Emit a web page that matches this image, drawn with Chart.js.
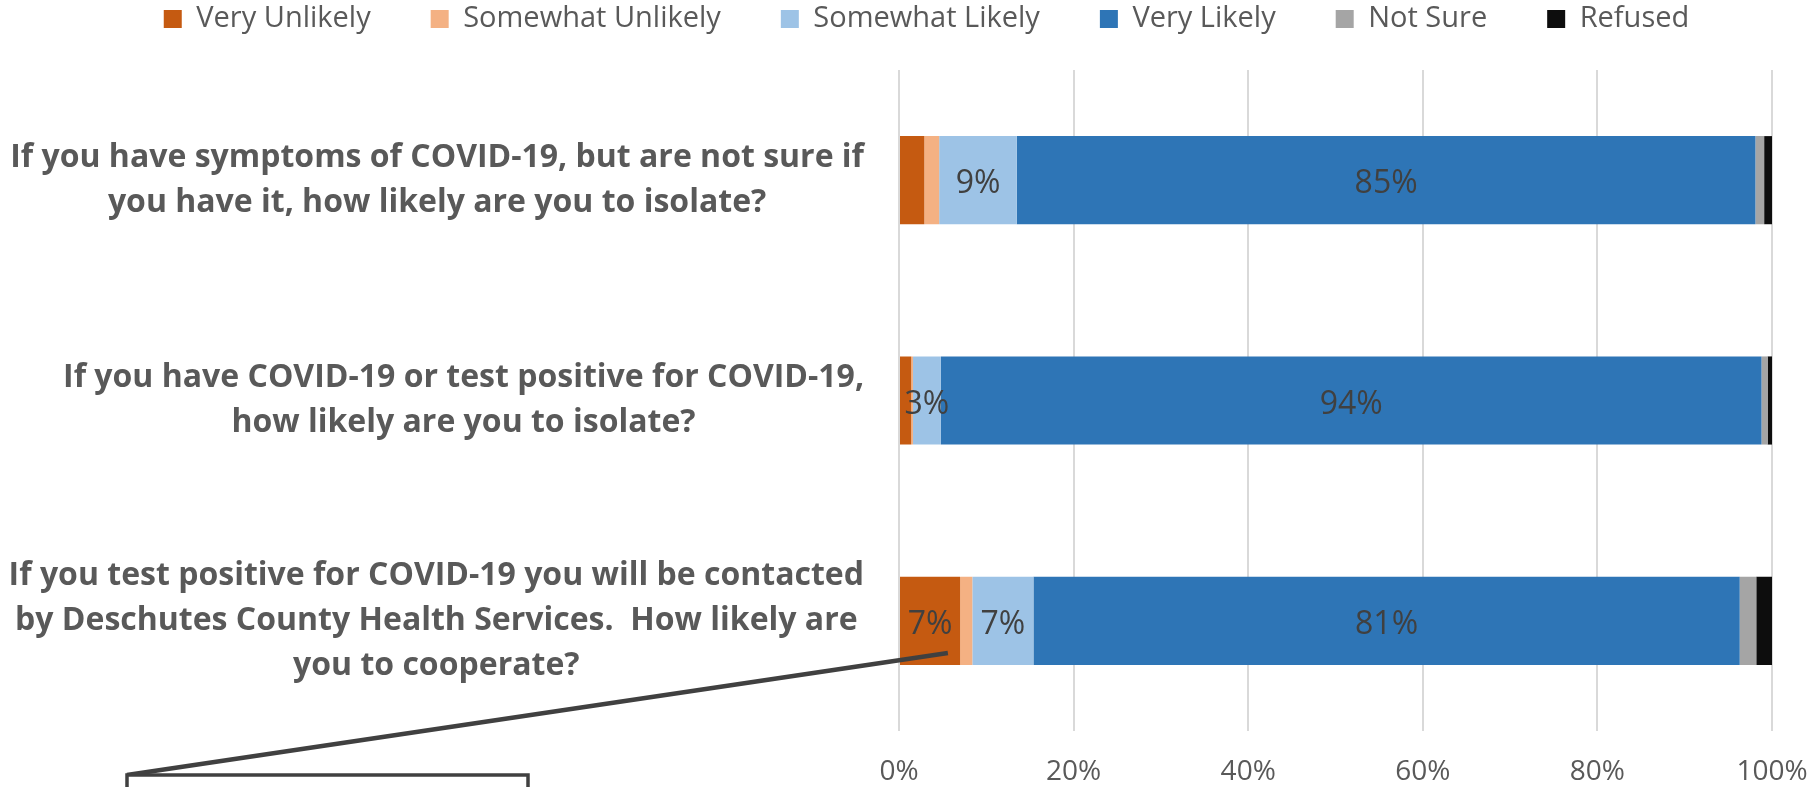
<!DOCTYPE html>
<html>
<head>
<meta charset="utf-8">
<script src="https://cdn.jsdelivr.net/npm/chart.js@4.4.1/dist/chart.umd.min.js"></script>
<style>
  html, body { margin: 0; padding: 0; background: #fff; }
  canvas { display: block; }
</style>
</head>
<body>
<canvas id="likelyChart" width="1811" height="787"></canvas>
<script>
// survey questions, one array of lines each
const questions = [
  ['If you have symptoms of COVID-19, but are not sure if', 'you have it, how likely are you to isolate?'],
  ['If you have COVID-19 or test positive for COVID-19,', 'how likely are you to isolate?'],
  ['If you test positive for COVID-19 you will be contacted', 'by Deschutes County Health Services.  How likely are', 'you to cooperate?']
];
const responses = ['Very Unlikely', 'Somewhat Unlikely', 'Somewhat Likely', 'Very Likely', 'Not Sure', 'Refused'];

// percent of respondents, per question
const veryUnlikely     = [2.9, 1.4, 7.0];
const somewhatUnlikely = [1.7, 0.2, 1.4];
const somewhatLikely   = [8.9, 3.2, 7.0];
const veryLikely       = [84.6, 94.0, 80.9];
const notSure          = [1.0, 0.7, 1.9];
const refused          = [0.9, 0.5, 1.8];

const xTicks = [0, 20, 40, 60, 80, 100];
const colors = ['#C55A11', '#F4B183', '#9DC3E6', '#2E75B6', '#A5A5A5', '#0D0D0D'];
const series = [veryUnlikely, somewhatUnlikely, somewhatLikely, veryLikely, notSure, refused];
const labelMin = 3; // smaller segments get no value label

Chart.defaults.font.family = '"Open Sans", sans-serif';
Chart.defaults.color = '#595959';

// question text left of each bar, lines centred on the widest one
const questionLabels = {
  id: 'questionLabels',
  afterDraw(chart) {
    const { ctx, chartArea, scales: { y } } = chart;
    ctx.save();
    ctx.font = 'bold 32px "Open Sans"';
    ctx.fillStyle = '#595959';
    ctx.textAlign = 'center';
    ctx.textBaseline = 'middle';
    const right = chartArea.left - 35;
    const lineGap = 45;
    questions.forEach((lines, i) => {
      const widest = Math.max(...lines.map(l => ctx.measureText(l).width));
      const cx = right - widest / 2;
      const cy = y.getPixelForValue(i);
      lines.forEach((line, j) => {
        ctx.fillText(line, cx, cy + (j - (lines.length - 1) / 2) * lineGap);
      });
    });
    ctx.restore();
  }
};

// percent labels in the middle of the segments
const valueLabels = {
  id: 'valueLabels',
  afterDatasetsDraw(chart) {
    const { ctx } = chart;
    ctx.save();
    ctx.font = '32px "Open Sans"';
    ctx.fillStyle = '#404040';
    ctx.textAlign = 'center';
    ctx.textBaseline = 'middle';
    chart.data.datasets.forEach((ds, di) => {
      chart.getDatasetMeta(di).data.forEach((bar, i) => {
        const v = ds.data[i];
        if (v < labelMin) return;
        ctx.fillText(Math.round(v) + '%', (bar.x + bar.base) / 2, bar.y + 4);
      });
    });
    ctx.restore();
  }
};

// leftover callout: box at the bottom left with a leader into the last bar
const callout = {
  id: 'callout',
  afterDraw(chart) {
    const { ctx } = chart;
    const bar = chart.getDatasetMeta(0).data[2];
    const endX = chart.scales.x.getPixelForValue(5.6);
    const endY = bar.y + bar.height / 2 - 12;
    ctx.save();
    ctx.strokeStyle = '#404040';
    ctx.lineWidth = 4.5;
    ctx.beginPath();
    ctx.moveTo(127, 775);
    ctx.lineTo(endX, endY);
    ctx.stroke();
    ctx.fillStyle = '#fff';
    ctx.lineWidth = 3.5;
    ctx.fillRect(127, 775, 401, 40);
    ctx.strokeRect(127, 775, 401, 40);
    ctx.restore();
  }
};

new Chart(document.getElementById('likelyChart'), {
  type: 'bar',
  data: {
    labels: questions.map(q => q.join(' ')),
    datasets: responses.map((name, i) => ({
      label: name,
      data: series[i],
      backgroundColor: colors[i],
      borderWidth: 0,
      barPercentage: 0.4,
      categoryPercentage: 1
    }))
  },
  options: {
    indexAxis: 'y',
    responsive: false,
    animation: false,
    devicePixelRatio: 1,
    layout: { padding: { left: 81, right: 39, top: -55.5, bottom: -4.6 } },
    plugins: {
      legend: {
        position: 'top',
        labels: {
          font: { size: 29 },
          color: '#595959',
          boxWidth: 18,
          boxHeight: 18,
          padding: 60
        }
      },
      tooltip: { enabled: false }
    },
    scales: {
      x: {
        stacked: true,
        min: 0,
        max: 100,
        afterBuildTicks: s => { s.ticks = xTicks.map(v => ({ value: v })); },
        ticks: {
          callback: v => v + '%',
          font: { size: 28 },
          color: '#595959',
          padding: 2.5
        },
        grid: { color: '#D9D9D9', lineWidth: 2, tickLength: 22, tickColor: 'transparent' },
        border: { display: false }
      },
      xTop: {
        type: 'linear',
        axis: 'x',
        position: 'top',
        grid: { display: false },
        ticks: { display: false },
        border: { display: false },
        afterFit: s => { s.height = 26.5; }
      },
      y: {
        stacked: true,
        grid: { display: false },
        ticks: { display: false },
        border: { display: false },
        afterFit: s => { s.width = 818; }
      }
    }
  },
  plugins: [valueLabels, questionLabels, callout]
});
</script>
</body>
</html>
